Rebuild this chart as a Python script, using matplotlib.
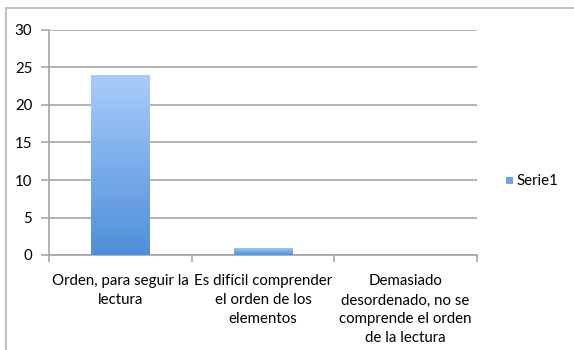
import numpy as np
import matplotlib.pyplot as plt
from matplotlib.colors import LinearSegmentedColormap
from matplotlib.patches import Rectangle

categories = ['Orden, para seguir la\nlectura',
              'Es difícil comprender\nel orden de los\nelementos',
              'Demasiado\ndesordenado, no se\ncomprende el orden\nde la lectura']
serie1 = [24, 1, 0]
yticks = [0, 5, 10, 15, 20, 25, 30]

plt.rcParams['font.family'] = ['Lato', 'DejaVu Sans']

W, H = 574, 350
fig = plt.figure(figsize=(W / 100, H / 100), dpi=100)

# outer chart frame
fig.add_artist(Rectangle((6 / W, -0.01), 1.0, 1 - 8 / H + 0.01, transform=fig.transFigure,
                         fill=False, edgecolor='#b4b4b4', lw=1.2))

ax = fig.add_axes([49 / W, (H - 255) / H, (477 - 49) / W, (255 - 30) / H])
grad = LinearSegmentedColormap.from_list('bar', ['#4d8fd9', '#a9cdfb'])

x = np.arange(len(categories))
bars = ax.bar(x, serie1, width=0.41, color='none', edgecolor='none', zorder=3)
for b in bars:
    h = b.get_height()
    if h <= 0:
        continue
    x0, w = b.get_x(), b.get_width()
    img = ax.imshow(np.linspace(0, 1, 256).reshape(-1, 1), cmap=grad, origin='lower',
                    extent=[x0, x0 + w, 0, h], aspect='auto', zorder=3,
                    interpolation='bilinear')
    img.set_clip_path(b)

ax.set_xlim(-0.5, len(categories) - 0.5)
ax.set_ylim(0, 30)
ax.set_yticks(yticks)
ax.yaxis.grid(True, color='#a6a6a6', lw=1.2, zorder=0)
ax.set_axisbelow(True)

ax.set_xticks(np.arange(-0.5, len(categories), 1.0))
ax.set_xticklabels([])
ax.set_xticks(x, minor=True)
ax.set_xticklabels(categories, minor=True, fontsize=10.8, linespacing=1.45)
ax.tick_params(axis='x', which='major', length=5, color='#a6a6a6', width=1.2)
ax.tick_params(axis='x', which='minor', length=0, pad=14)
ax.tick_params(axis='y', length=6, color='#a6a6a6', width=1.2, labelsize=10.8, pad=6)

for s in ['top', 'right']:
    ax.spines[s].set_visible(False)
for s in ['left', 'bottom']:
    ax.spines[s].set_color('#a6a6a6')
    ax.spines[s].set_linewidth(1.2)

# legend
fig.add_artist(Rectangle((506 / W, (H - 184) / H), 7 / W, 7 / H, transform=fig.transFigure,
                         facecolor='#6ea4e6', edgecolor='none'))
fig.text(516 / W, (H - 181) / H, 'Serie1', fontsize=10.8, va='center', ha='left')

fig.savefig('out.png', dpi=100)
